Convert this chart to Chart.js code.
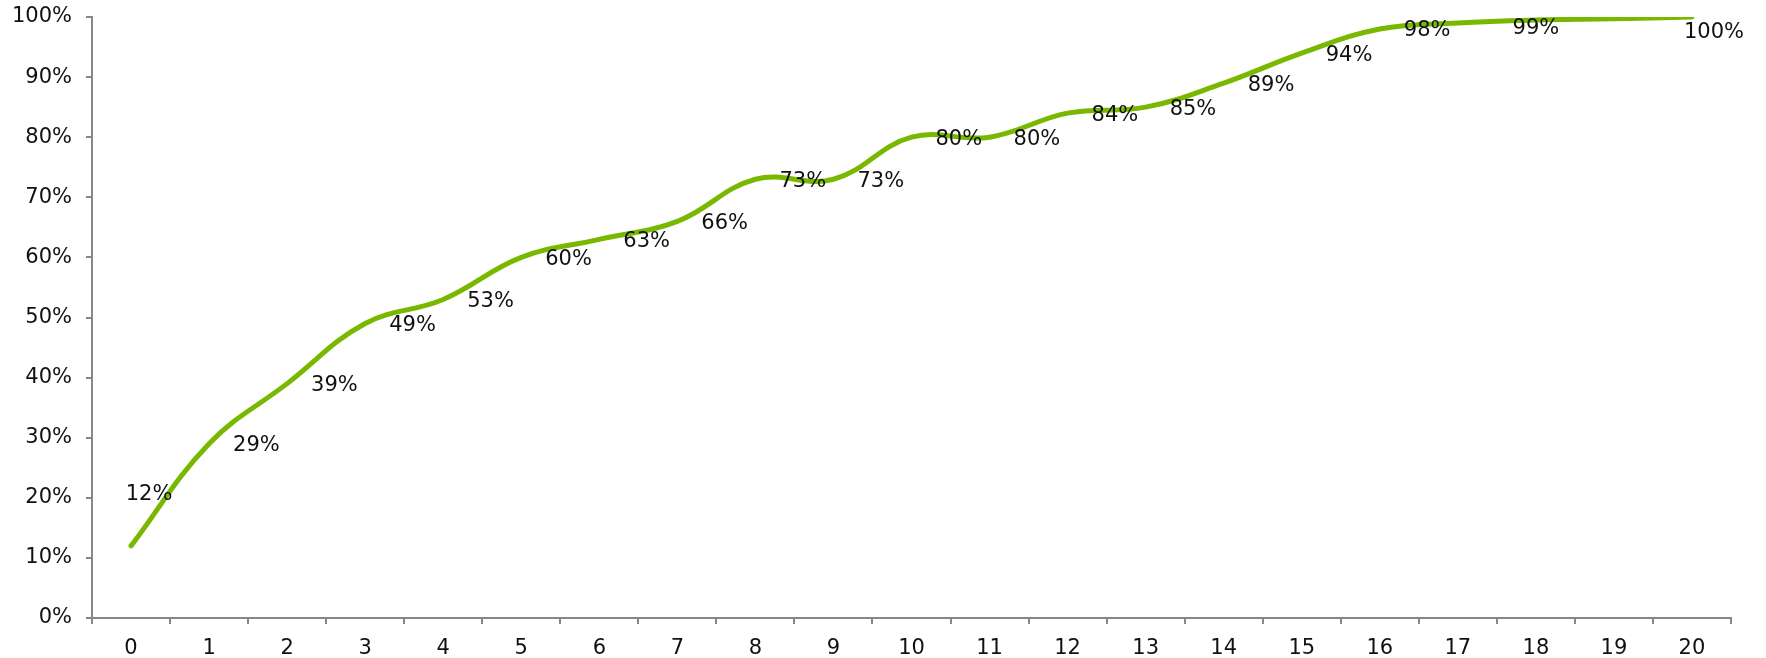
<!DOCTYPE html>
<html>
<head>
<meta charset="utf-8">
<script src="https://cdn.jsdelivr.net/npm/chart.js@4"></script>
<style>
  html, body { margin:0; padding:0; background:#fff; }
  #wrap { width:1766px; height:658px; }
</style>
</head>
<body>
<div id="wrap"><canvas id="chart" width="1766" height="658"></canvas></div>
<script>
// ---------- Data ----------
const categories = ['0','1','2','3','4','5','6','7','8','9','10','11','12','13','14','15','16','17','18','19','20'];
const shares     = [12, 29, 39, 49, 53, 60, 63, 66, 73, 73, 80, 80, 84, 85, 89, 94, 98, 99, 99.5, 99.7, 100];
const pointLabels = ['12%','29%','39%','49%','53%','60%','63%','66%','73%','73%','80%','80%','84%','85%','89%','94%','98%',null,'99%',null,'100%'];
const yTicks = [0,10,20,30,40,50,60,70,80,90,100];

const AXIS = '#878787';
const FONT = "'DejaVu Sans', Verdana, sans-serif";

// Data labels, mostly placed to the right of the point
const valueLabels = {
  id: 'valueLabels',
  afterDatasetsDraw(chart){
    const {ctx} = chart;
    const meta = chart.getDatasetMeta(0);
    ctx.save();
    ctx.font = '21px ' + FONT;
    ctx.fillStyle = '#111';
    ctx.textBaseline = 'middle';
    meta.data.forEach((pt, i) => {
      const txt = pointLabels[i];
      if (!txt) return;
      if (i === 0){ ctx.textAlign = 'center'; ctx.fillText(txt, pt.x + 18, pt.y - 51); }
      else if (i === 18){ ctx.textAlign = 'center'; ctx.fillText(txt, pt.x, pt.y + 9); }
      else if (i === 20){ ctx.textAlign = 'center'; ctx.fillText(txt, pt.x + 22, pt.y + 16); }
      else { ctx.textAlign = 'left'; ctx.fillText(txt, pt.x + 24, pt.y + 2); }
    });
    ctx.restore();
  }
};

new Chart(document.getElementById('chart'), {
  type: 'line',
  data: {
    labels: categories,
    datasets: [{
      data: shares,
      borderColor: '#79b800',
      borderWidth: 5,
      borderCapStyle: 'round',
      tension: 0.4,
      pointRadius: 0,
      fill: false
    }]
  },
  options: {
    responsive: false,
    animation: false,
    layout: { padding: { top: 17, right: 35, left: 0, bottom: 0 } },
    plugins: { legend: { display: false }, tooltip: { enabled: false } },
    scales: {
      x: {
        offset: true,
        grid: { offset: true, drawOnChartArea: false, drawTicks: true, tickLength: 6, color: AXIS, lineWidth: 2 },
        border: { display: true, color: AXIS, width: 2 },
        ticks: { color: '#111', font: { family: FONT, size: 21 }, padding: 12, maxRotation: 0, autoSkip: false },
        afterFit(s){ s.height = 40; s.paddingLeft = 0; s.paddingRight = 0; }
      },
      y: {
        min: 0, max: 100,
        afterBuildTicks(s){ s.ticks = yTicks.map(v => ({ value: v })); },
        grid: { drawOnChartArea: false, drawTicks: true, tickLength: 6, color: AXIS, lineWidth: 2 },
        border: { display: true, color: AXIS, width: 2 },
        ticks: { color: '#111', font: { family: FONT, size: 21 }, padding: 14, callback: v => v + '%' },
        afterFit(s){ s.width = 92; s.paddingTop = 0; s.paddingBottom = 0; }
      }
    }
  },
  plugins: [valueLabels]
});
</script>
</body>
</html>
